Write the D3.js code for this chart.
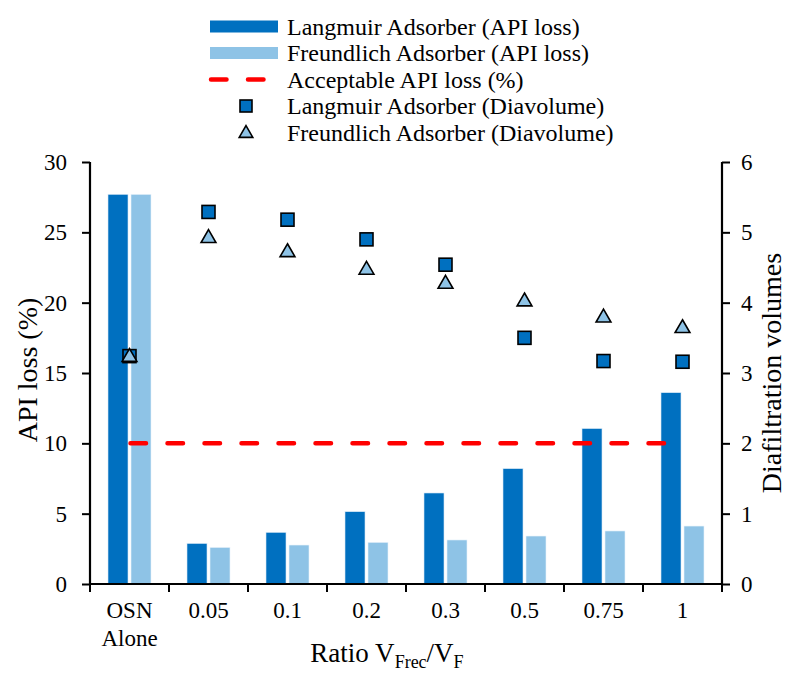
<!DOCTYPE html>
<html><head><meta charset="utf-8">
<script src="https://cdn.jsdelivr.net/npm/d3@7"></script>
<style>body{margin:0;background:#fff}svg{display:block}</style>
</head><body><svg id="c" width="787" height="673"></svg>
<script>
const categories = ["OSN|Alone","0.05","0.1","0.2","0.3","0.5","0.75","1"];
const langmuirLoss = [27.7,2.88,3.67,5.14,6.47,8.2,11.05,13.6];
const freundlichLoss = [27.7,2.6,2.77,2.96,3.13,3.41,3.77,4.12];
const acceptableLoss = 10;
const langmuirDia = [3.24,5.29,5.18,4.9,4.54,3.5,3.17,3.16];
const freundlichDia = [3.24,4.93,4.73,4.48,4.28,4.03,3.8,3.65];
const leftTicks = [0,5,10,15,20,25,30];
const rightTicks = [0,1,2,3,4,5,6];

const FONT = "'Liberation Serif', 'Times New Roman', serif";
const C_L = "#0070C0", C_F = "#8EC3E6", C_R = "#FF0000";
const svg = d3.select("#c").attr("font-family", FONT);
const m = {l:90, r:722, t:162, b:584};
const x = d3.scaleBand().domain(categories).range([m.l, m.r]);
const yL = d3.scaleLinear().domain([0,30]).range([m.b, m.t]);
const yR = d3.scaleLinear().domain([0,6]).range([m.b, m.t]);
const bw = 20, gap = 1.5;

// bars
const g = svg.append("g");
g.selectAll(".bl").data(categories).join("rect")
  .attr("x", d => x(d) + x.bandwidth()/2 - gap - bw)
  .attr("width", bw)
  .attr("y", (d,i) => yL(langmuirLoss[i]))
  .attr("height", (d,i) => yL(0) - yL(langmuirLoss[i]))
  .attr("fill", C_L).attr("stroke", "#d8e8f5").attr("stroke-width", 0.6);
g.selectAll(".bf").data(categories).join("rect")
  .attr("x", d => x(d) + x.bandwidth()/2 + gap)
  .attr("width", bw)
  .attr("y", (d,i) => yL(freundlichLoss[i]))
  .attr("height", (d,i) => yL(0) - yL(freundlichLoss[i]))
  .attr("fill", C_F).attr("stroke", "#e8f2fa").attr("stroke-width", 0.6);

// acceptable line
const cx = d => x(d) + x.bandwidth()/2;
svg.append("line")
  .attr("x1", cx(categories[0]) + 1).attr("x2", cx(categories[categories.length-1]) - 8)
  .attr("y1", yL(acceptableLoss)).attr("y2", yL(acceptableLoss))
  .attr("stroke", C_R).attr("stroke-width", 4.5).attr("stroke-linecap","round")
  .attr("stroke-dasharray", "15.5,21.5");

// markers
const sq = 13;
svg.selectAll(".ml").data(categories).join("rect")
  .attr("x", d => cx(d) - sq/2).attr("y", (d,i) => yR(langmuirDia[i]) - sq/2)
  .attr("width", sq).attr("height", sq)
  .attr("fill", C_L).attr("stroke", "#000").attr("stroke-width", 1.6);
const tri = d3.symbol().type(d3.symbolTriangle).size(95);
svg.selectAll(".mf").data(categories).join("path")
  .attr("d", tri)
  .attr("transform", (d,i) => `translate(${cx(d)},${yR(freundlichDia[i]) + 1})`)
  .attr("fill", C_F).attr("stroke", "#000").attr("stroke-width", 1.6);

// axes
const fs = "23px";
const axL = svg.append("g").attr("transform", `translate(${m.l},0)`)
  .call(d3.axisLeft(yL).tickValues(leftTicks).tickFormat(d3.format("d")).tickSize(8).tickPadding(15));
const axR = svg.append("g").attr("transform", `translate(${m.r},0)`)
  .call(d3.axisRight(yR).tickValues(rightTicks).tickFormat(d3.format("d")).tickSize(8).tickPadding(11));
const axB = svg.append("g").attr("transform", `translate(0,${m.b})`)
  .call(d3.axisBottom(x).tickSize(0).tickFormat(""));
[axL, axR, axB].forEach(a => {
  a.attr("font-family", FONT).attr("font-size", fs);
  a.select(".domain").attr("stroke", "#000").attr("stroke-width", 2.2);
  a.selectAll(".tick line").attr("stroke", "#000").attr("stroke-width", 2);
  a.selectAll("text").attr("font-family", FONT).attr("font-size", fs).attr("fill", "#000");
});
axL.select(".domain").attr("d", `M0,${m.b}V${m.t}`);
axR.select(".domain").attr("d", `M0,${m.b}V${m.t}`);
axB.select(".domain").attr("d", `M${m.l},0H${m.r}`);
// x boundary ticks
const bounds = categories.map(d => x(d)).concat([m.r]);
svg.append("g").selectAll("line").data(bounds).join("line")
  .attr("x1", d => d).attr("x2", d => d).attr("y1", m.b).attr("y2", m.b + 8)
  .attr("stroke", "#000").attr("stroke-width", 2);
// x labels
const xl = svg.append("g").attr("font-size", fs).attr("font-family", FONT).attr("text-anchor", "middle");
categories.forEach(c => {
  const parts = c.split("|");
  const t = xl.append("text").attr("x", cx(c)).attr("y", 618);
  parts.forEach((p, i) => t.append("tspan").attr("x", cx(c)).attr("dy", i ? 28 : 0).text(p));
});

// axis titles
svg.append("text").attr("transform", `translate(37,370) rotate(-90)`).attr("font-family", FONT)
  .attr("text-anchor", "middle").attr("font-size", "28px").text("API loss (%)");
svg.append("text").attr("transform", `translate(781,${(m.t+m.b)/2}) rotate(-90)`).attr("font-family", FONT)
  .attr("text-anchor", "middle").attr("font-size", "28px").text("Diafiltration volumes");
const xt = svg.append("text").attr("x", 387).attr("y", 662).attr("text-anchor", "middle")
  .attr("font-family", FONT).attr("font-size", "27px");
xt.append("tspan").text("Ratio V");
xt.append("tspan").attr("font-size", "18px").attr("dy", 6).text("Frec");
xt.append("tspan").attr("dy", -6).text("/V");
xt.append("tspan").attr("font-size", "18px").attr("dy", 6).text("F");

// legend
const legendLabels = ["Langmuir Adsorber (API loss)","Freundlich Adsorber (API loss)","Acceptable API loss (%)","Langmuir Adsorber (Diavolume)","Freundlich Adsorber (Diavolume)"];
const lg = svg.append("g");
const ly = i => 26.5 + i * 26.5;
lg.selectAll("text").data(legendLabels).join("text")
  .attr("x", 287).attr("y", (d,i) => ly(i) + 8).attr("font-family", FONT).attr("font-size", "24px").text(d => d);
lg.append("rect").attr("x", 210).attr("y", ly(0) - 6).attr("width", 68).attr("height", 12).attr("fill", C_L);
lg.append("rect").attr("x", 210).attr("y", ly(1) - 6).attr("width", 68).attr("height", 12).attr("fill", C_F);
lg.append("line").attr("x1", 211).attr("x2", 267).attr("y1", ly(2)).attr("y2", ly(2))
  .attr("stroke", C_R).attr("stroke-width", 4.5).attr("stroke-linecap","round").attr("stroke-dasharray", "15.5,21.5");
lg.append("rect").attr("x", 246 - 6).attr("y", ly(3) - 6).attr("width", 12).attr("height", 12)
  .attr("fill", C_L).attr("stroke", "#000").attr("stroke-width", 1.6);
lg.append("path").attr("d", d3.symbol().type(d3.symbolTriangle).size(80)).attr("transform", `translate(246,${ly(4)+1})`)
  .attr("fill", C_F).attr("stroke", "#000").attr("stroke-width", 1.6);
</script></body></html>
